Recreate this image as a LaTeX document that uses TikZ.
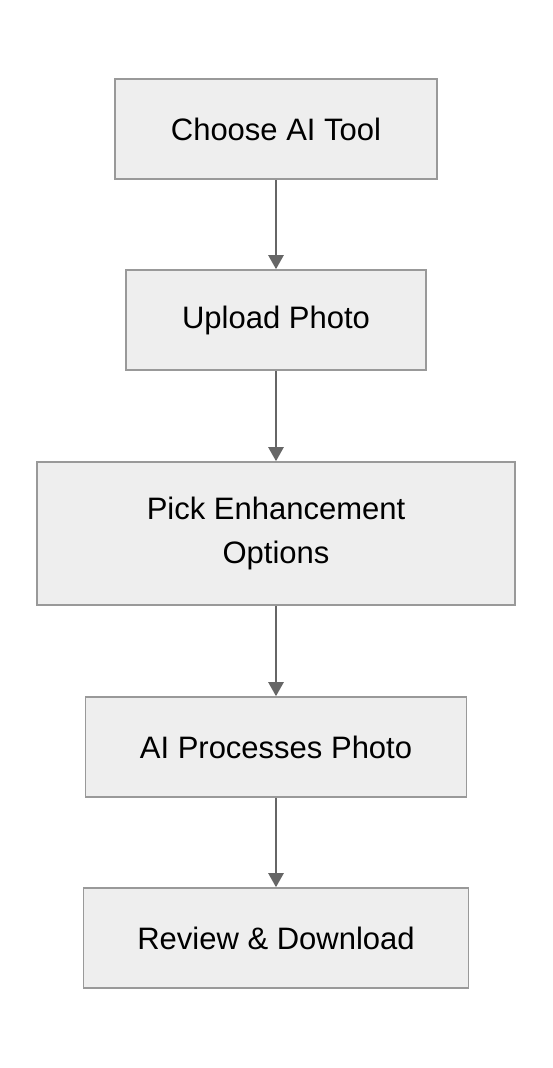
\documentclass[tikz,border=0pt]{standalone}
\usepackage{fontspec}
\setmainfont{Liberation Sans}
\usetikzlibrary{arrows.meta}
\definecolor{boxfill}{HTML}{EEEEEE}
\definecolor{boxline}{HTML}{999999}
\definecolor{arrowcol}{HTML}{666666}
\begin{document}
\begin{tikzpicture}[x=1pt,y=-1pt,
  stepbox/.style={draw=boxline,fill=boxfill,line width=1.6pt,inner sep=0pt,align=center,
    font=\fontsize{31}{44}\selectfont,text=black},
  flow/.style={draw=arrowcol,line width=2.4pt,-{Triangle[width=15pt,length=14pt]}}]
\useasboundingbox (0,0) rectangle (552,1068);
\fill[white] (0,0) rectangle (552,1068);
\node[stepbox,minimum width=322pt,minimum height=100pt] (a) at (276,129) {Choose AI Tool};
\node[stepbox,minimum width=300pt,minimum height=100pt] (b) at (276,320) {Upload Photo};
\node[stepbox,minimum width=478pt,minimum height=143pt] (c) at (276,533.5) {Pick Enhancement\\Options};
\node[stepbox,minimum width=381pt,minimum height=100pt] (d) at (276,747) {AI Processes Photo};
\node[stepbox,minimum width=385pt,minimum height=100pt] (e) at (276,938) {Review \& Download};
\draw[flow] (a.south) -- (b.north);
\draw[flow] (b.south) -- (c.north);
\draw[flow] (c.south) -- (d.north);
\draw[flow] (d.south) -- (e.north);
\end{tikzpicture}
\end{document}
